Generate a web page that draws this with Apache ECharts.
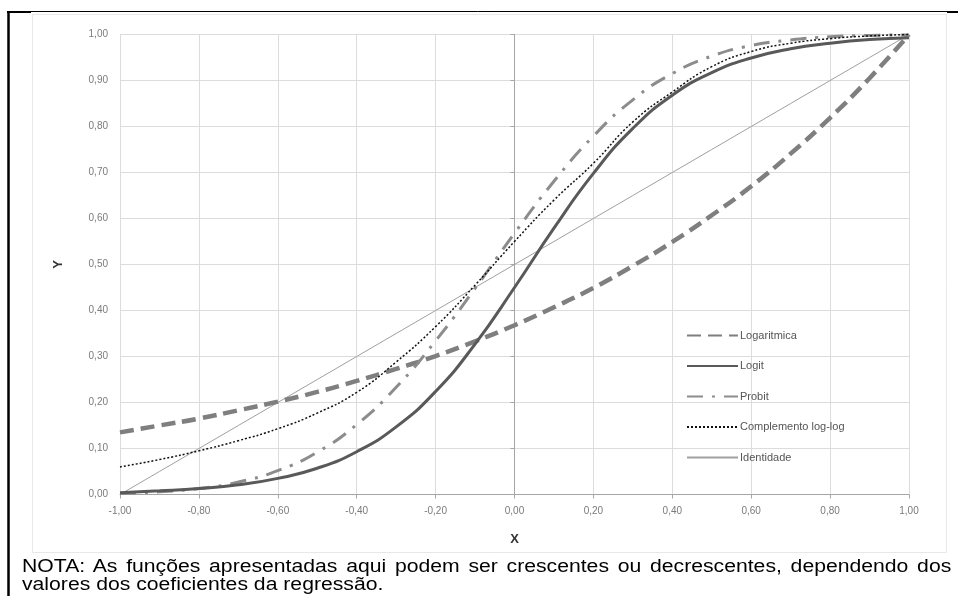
<!DOCTYPE html>
<html>
<head>
<meta charset="utf-8">
<script src="https://cdn.jsdelivr.net/npm/echarts@6/dist/echarts.min.js"></script>
<style>
  html, body { margin: 0; padding: 0; background: #fff; }
  #wrap { position: relative; width: 958px; height: 596px; overflow: hidden; }
  #chart { position: absolute; left: 0; top: 0; width: 958px; height: 596px; }
  .nota { position: absolute; left: 22px; width: 768px; font-family: "Liberation Sans", Arial, sans-serif;
          font-size: 17.5px; line-height: 18px; color: #000; white-space: nowrap;
          transform: scaleX(1.21); transform-origin: 0 0; }
  #nota1 { top: 557px; text-align: justify; text-align-last: justify; white-space: normal; }
  #nota2 { top: 575px; }
</style>
</head>
<body>
<div id="wrap">
  <div id="chart"></div>
  <div class="nota" id="nota1">NOTA: As funções apresentadas aqui podem ser crescentes ou decrescentes, dependendo dos</div>
  <div class="nota" id="nota2">valores dos coeficientes da regressão.</div>
</div>
<script>
// X positions of the sampled points
const xValues = [-1.0, -0.9, -0.8, -0.7, -0.6, -0.5, -0.4, -0.3, -0.2, -0.1, 0.0,
                 0.1, 0.2, 0.3, 0.4, 0.5, 0.6, 0.7, 0.8, 0.9, 1.0];

// Y values of each link function
const logaritmica = [0.135, 0.150, 0.165, 0.183, 0.202, 0.223, 0.247, 0.273, 0.301, 0.333, 0.368,
                     0.407, 0.449, 0.497, 0.549, 0.607, 0.670, 0.741, 0.819, 0.905, 1.000];
const logit = [0.004, 0.008, 0.013, 0.021, 0.035, 0.057, 0.093, 0.147, 0.224, 0.327, 0.450,
               0.579, 0.698, 0.796, 0.868, 0.917, 0.949, 0.969, 0.981, 0.989, 0.993];
const probit = [0.002, 0.006, 0.013, 0.027, 0.052, 0.092, 0.152, 0.233, 0.334, 0.448, 0.568,
                0.681, 0.779, 0.858, 0.915, 0.953, 0.976, 0.988, 0.995, 0.998, 0.999];
const complementoLogLog = [0.060, 0.076, 0.095, 0.117, 0.143, 0.177, 0.222, 0.288, 0.365, 0.455, 0.550,
                           0.640, 0.720, 0.810, 0.875, 0.930, 0.963, 0.981, 0.991, 0.997, 1.000];
const identidade = [0.00, 0.05, 0.10, 0.15, 0.20, 0.25, 0.30, 0.35, 0.40, 0.45, 0.50,
                    0.55, 0.60, 0.65, 0.70, 0.75, 0.80, 0.85, 0.90, 0.95, 1.00];

// Axis tick labels
const xTickLabels = ['-1,00', '-0,80', '-0,60', '-0,40', '-0,20', '0,00', '0,20', '0,40', '0,60', '0,80', '1,00'];
const yTickLabels = ['0,00', '0,10', '0,20', '0,30', '0,40', '0,50', '0,60', '0,70', '0,80', '0,90', '1,00'];

const pairs = ys => xValues.map((x, i) => [x, ys[i]]);

const FONT = '"Liberation Sans", Arial, sans-serif';
const chart = echarts.init(document.getElementById('chart'), null, { renderer: 'canvas' });

const axisCommon = {
  axisLine: { show: true, lineStyle: { color: '#a6a6a6', width: 1 } },
  axisTick: { show: true, inside: false, length: 4, lineStyle: { color: '#a6a6a6' } },
  splitLine: { show: true, lineStyle: { color: '#dcdcdc', width: 1 } },
  axisLabel: { color: '#7a7a7a', fontSize: 10, fontFamily: FONT }
};

chart.setOption({
  animation: false,
  backgroundColor: '#fff',
  grid: { left: 120, right: 49, top: 34.5, bottom: 101.5, containLabel: false },
  xAxis: Object.assign({}, axisCommon, {
    type: 'value', min: -1, max: 1, interval: 0.2,
    name: 'X', nameLocation: 'middle', nameGap: 38,
    nameTextStyle: { color: '#333', fontSize: 13, fontWeight: 'bold', fontFamily: FONT },
    axisLabel: Object.assign({}, axisCommon.axisLabel, { margin: 12, formatter: (v, i) => xTickLabels[i] })
  }),
  yAxis: Object.assign({}, axisCommon, {
    type: 'value', min: 0, max: 1, interval: 0.1,
    name: 'Y', nameLocation: 'middle', nameGap: 55,
    nameTextStyle: { color: '#333', fontSize: 13, fontWeight: 'bold', fontFamily: FONT },
    axisLabel: Object.assign({}, axisCommon.axisLabel, { margin: 12, formatter: (v, i) => yTickLabels[i] })
  }),
  legend: {
    orient: 'vertical', left: 681, top: 325,
    itemWidth: 51, itemHeight: 12, itemGap: 19.5,
    itemStyle: { opacity: 0 },
    textStyle: { color: '#555', fontSize: 11, fontFamily: FONT, padding: [0, 0, 0, -3] },
    data: ['Logaritmica', 'Logit', 'Probit', 'Complemento log-log', 'Identidade']
  },
  series: [
    { name: 'Identidade', type: 'line', data: pairs(identidade), showSymbol: false, symbol: 'none',
      lineStyle: { color: '#a0a0a0', width: 1 }, itemStyle: { color: '#a0a0a0' }, z: 1 },
    { name: 'Logaritmica', type: 'line', data: pairs(logaritmica), showSymbol: false, symbol: 'none', smooth: true,
      lineStyle: { color: '#7f7f7f', width: 4.5, type: [14, 7] }, itemStyle: { color: '#7f7f7f' }, z: 2 },
    { name: 'Probit', type: 'line', data: pairs(probit), showSymbol: false, symbol: 'none', smooth: true,
      lineStyle: { color: '#8c8c8c', width: 3, type: [16, 9, 3, 9] }, itemStyle: { color: '#8c8c8c' }, z: 3 },
    { name: 'Logit', type: 'line', data: pairs(logit), showSymbol: false, symbol: 'none', smooth: true,
      lineStyle: { color: '#595959', width: 3 }, itemStyle: { color: '#595959' }, z: 4 },
    { name: 'Complemento log-log', type: 'line', data: pairs(complementoLogLog), showSymbol: false, symbol: 'none', smooth: true,
      lineStyle: { color: '#111', width: 1.5, type: [2, 2] }, itemStyle: { color: '#111' }, z: 5 }
  ],
  graphic: [
    // light frame around the chart area
    { type: 'rect', shape: { x: 32.5, y: 14.5, width: 914, height: 538 }, silent: true, z: -1,
      style: { fill: 'none', stroke: '#e8e8e8', lineWidth: 1 } },
    // page frame
    { type: 'line', shape: { x1: 8.5, y1: 11.5, x2: 947, y2: 11.5 }, style: { stroke: '#000', lineWidth: 1 } },
    { type: 'line', shape: { x1: 7, y1: 12, x2: 31, y2: 12 }, style: { stroke: '#000', lineWidth: 2 } },
    { type: 'line', shape: { x1: 947, y1: 12, x2: 958, y2: 12 }, style: { stroke: '#000', lineWidth: 2 } },
    { type: 'line', shape: { x1: 8.5, y1: 11, x2: 8.5, y2: 596 }, style: { stroke: '#000', lineWidth: 2.5 } }
  ]
});
</script>
</body>
</html>
